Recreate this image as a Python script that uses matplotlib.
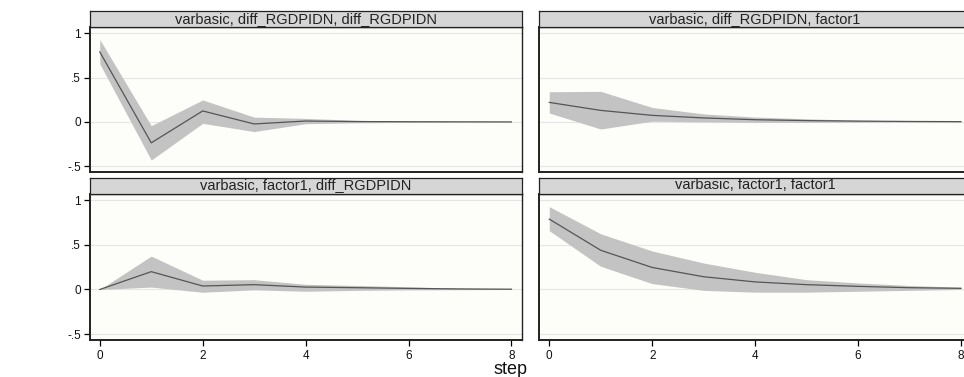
"""
Stata-style impulse response grid (varbasic) redrawn with matplotlib.
"""

import numpy as np
import matplotlib.pyplot as plt

plt.rcParams['font.family'] = ['Liberation Sans', 'DejaVu Sans']

steps = np.arange(9)

titles = [
    "varbasic, diff_RGDPIDN, diff_RGDPIDN",
    "varbasic, diff_RGDPIDN, factor1",
    "varbasic, factor1, diff_RGDPIDN",
    "varbasic, factor1, factor1",
]

# irf and 95% band per panel
irf_dd = [0.79, -0.236, 0.124, -0.023, 0.01, 0.004, 0.002, 0.001, 0.0]
lo_dd = [0.655, -0.43, -0.016, -0.109, -0.02, -0.01, -0.005, -0.002, -0.001]
hi_dd = [0.93, -0.043, 0.248, 0.054, 0.04, 0.018, 0.008, 0.004, 0.002]

irf_df = [0.22, 0.13, 0.074, 0.045, 0.025, 0.015, 0.009, 0.005, 0.003]
lo_df = [0.10, -0.08, 0.008, 0.0, -0.005, -0.005, -0.003, -0.002, -0.001]
hi_df = [0.34, 0.345, 0.163, 0.09, 0.055, 0.035, 0.02, 0.012, 0.007]

irf_fd = [0.0, 0.20, 0.039, 0.054, 0.027, 0.02, 0.012, 0.006, 0.003]
lo_fd = [0.0, 0.027, -0.031, -0.004, -0.02, -0.01, -0.005, -0.002, 0.0]
hi_fd = [0.0, 0.375, 0.104, 0.11, 0.058, 0.045, 0.03, 0.015, 0.008]

irf_ff = [0.79, 0.44, 0.247, 0.143, 0.085, 0.054, 0.035, 0.02, 0.013]
lo_ff = [0.66, 0.26, 0.066, -0.01, -0.03, -0.03, -0.02, -0.01, 0.0]
hi_ff = [0.93, 0.625, 0.432, 0.297, 0.193, 0.11, 0.073, 0.045, 0.025]

series = [(irf_dd, lo_dd, hi_dd), (irf_df, lo_df, hi_df),
          (irf_fd, lo_fd, hi_fd), (irf_ff, lo_ff, hi_ff)]

yticks = [-0.5, 0, 0.5, 1]
ylabels = ["-.5", "0", ".5", "1"]
xticks = [0, 2, 4, 6, 8]

W, H = 964, 377
fig = plt.figure(figsize=(W / 100, H / 100), dpi=100)
fig.patch.set_facecolor("white")

# panel boxes in pixels: left, right, header top, plot top, plot bottom
lefts = [89.5, 539.0]
pw = 432.2
rows = [(11.4, 26.9, 172.0), (177.6, 194.0, 339.8)]

for i in range(4):
    r, c = divmod(i, 2)
    x0 = lefts[c]
    htop, ptop, pbot = rows[r]
    ax = fig.add_axes([x0 / W, 1 - pbot / H, pw / W, (pbot - ptop) / H])
    hx = fig.add_axes([x0 / W, 1 - ptop / H, pw / W, (ptop - htop) / H])

    irf, lo, hi = series[i]
    ax.set_facecolor("#fdfdfa")
    ax.fill_between(steps, lo, hi, color="#c3c3c3", lw=0, zorder=2)
    ax.plot(steps, irf, color="#555555", lw=0.9, zorder=3)
    for v in yticks:
        ax.axhline(v, color="#e6e6e6", lw=0.8, zorder=1)

    ax.set_xlim(-0.2, 8.2)
    ax.set_ylim(-0.565, 1.072)
    ax.set_yticks(yticks)
    ax.set_xticks(xticks)
    for s in ax.spines.values():
        s.set_color("#222222")
        s.set_linewidth(1.0)
    ax.spines["left"].set_linewidth(1.4)
    ax.spines["bottom"].set_linewidth(1.4)

    if c == 0:
        ax.set_yticklabels(ylabels)
        ax.tick_params(axis="y", length=4, width=0.9, labelsize=8.5, pad=2,
                       labelcolor="#111111")
    else:
        ax.tick_params(axis="y", length=0, labelleft=False)
    if r == 1:
        ax.tick_params(axis="x", length=4, width=0.9, labelsize=8.5, pad=3,
                       labelcolor="#111111")
    else:
        ax.tick_params(axis="x", length=0, labelbottom=False)

    hx.set_facecolor("#d6d6d6")
    hx.set_xticks([])
    hx.set_yticks([])
    for s in hx.spines.values():
        s.set_color("#222222")
        s.set_linewidth(0.9)
    hx.text(0.5, 0.28, titles[i], ha="center", va="baseline",
            fontsize=10.5, color="#222222", transform=hx.transAxes)

fig.text(511 / W, 1 - 370 / H, "step", ha="center", va="center",
         fontsize=13, color="#111111")

fig.savefig("out.png", dpi=100)
